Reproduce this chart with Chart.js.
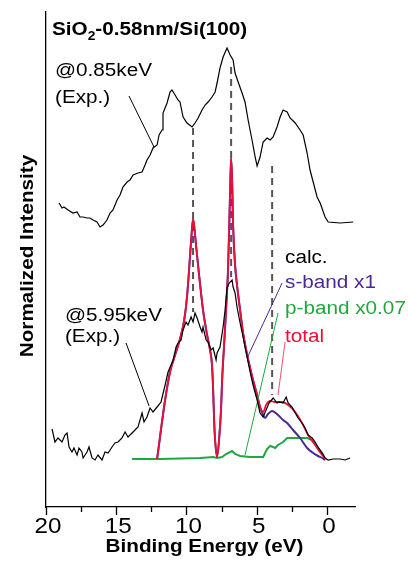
<!DOCTYPE html>
<html>
<head>
<meta charset="utf-8">
<script src="https://cdn.jsdelivr.net/npm/chart.js@4.4.0/dist/chart.umd.min.js"></script>
<style>
  html, body { margin: 0; padding: 0; background: #fff; }
  canvas { display: block; }
</style>
</head>
<body>
<canvas id="chart" width="408" height="562"></canvas>
<script>
// [binding energy (eV), intensity]
const expTop = [[19.07,3.04],[18.86,2.99],[18.72,3.00],[18.43,2.97],[18.08,2.94],[17.79,2.95],[17.58,2.90],[17.36,2.90],[17.08,2.89],[16.87,2.89],[16.65,2.87],[16.37,2.85],[16.15,2.80],[15.94,2.82],[15.66,2.87],[15.44,2.94],[15.23,2.97],[14.94,3.07],[14.73,3.12],[14.52,3.20],[14.23,3.25],[14.02,3.27],[13.80,3.32],[13.45,3.34],[13.16,3.35],[12.95,3.42],[12.81,3.47],[12.59,3.52],[12.38,3.59],[12.09,3.62],[11.95,3.72],[11.74,3.77],[11.67,3.94],[11.38,4.04],[11.17,4.15],[11.03,4.17],[10.81,4.12],[10.60,4.07],[10.46,4.05],[10.24,3.90],[9.96,3.84],[9.60,3.80],[9.39,3.84],[9.17,3.89],[8.89,3.97],[8.67,4.02],[8.46,4.05],[8.18,4.10],[7.96,4.15],[7.82,4.24],[7.61,4.39],[7.39,4.50],[7.11,4.59],[6.89,4.52],[6.68,4.47],[6.54,4.34],[6.32,4.25],[6.04,4.14],[5.83,4.05],[5.61,3.87],[5.33,3.67],[5.11,3.50],[4.97,3.41],[4.76,3.50],[4.54,3.65],[4.26,3.69],[4.04,3.67],[3.83,3.70],[3.55,3.80],[3.33,3.90],[3.12,3.97],[2.83,3.95],[2.62,3.89],[2.26,3.84],[1.91,3.77],[1.69,3.72],[1.41,3.54],[1.20,3.37],[0.70,3.10],[0.48,3.04],[0.13,2.90],[-0.09,2.85],[-0.94,2.84],[-1.87,2.85]];

const expBottom = [[19.57,0.78],[19.36,0.65],[19.15,0.69],[18.86,0.65],[18.65,0.72],[18.50,0.74],[18.36,0.60],[18.15,0.55],[18.01,0.59],[17.79,0.52],[17.65,0.59],[17.44,0.55],[17.36,0.49],[17.08,0.55],[16.94,0.60],[16.72,0.49],[16.51,0.47],[16.30,0.52],[16.01,0.47],[15.80,0.55],[15.58,0.54],[15.30,0.60],[15.09,0.64],[14.87,0.65],[14.59,0.69],[14.37,0.75],[14.16,0.70],[13.87,0.74],[13.66,0.77],[13.45,0.80],[13.16,0.94],[13.02,0.85],[12.81,0.90],[12.59,0.99],[12.38,0.95],[12.09,1.00],[11.81,1.05],[11.52,1.22],[11.31,1.35],[10.95,1.47],[10.74,1.60],[10.60,1.64],[10.38,1.67],[10.24,1.77],[10.03,1.85],[9.89,1.82],[9.67,1.90],[9.53,1.85],[9.39,1.94],[9.24,1.89],[9.03,1.80],[8.89,1.75],[8.82,1.80],[8.60,1.67],[8.46,1.65],[8.25,1.57],[8.10,1.59],[7.89,1.47],[7.82,1.54],[7.61,1.60],[7.39,1.80],[7.25,1.97],[7.11,2.19],[6.96,2.24],[6.75,2.27],[6.68,2.20],[6.54,2.14],[6.40,2.00],[6.18,1.84],[5.97,1.70],[5.83,1.60],[5.61,1.45],[5.47,1.35],[5.26,1.22],[4.97,1.07],[4.76,0.94],[4.54,0.90],[4.33,0.97],[4.12,1.04],[3.83,1.09],[3.55,1.04],[3.40,1.05],[3.12,1.04],[2.90,1.10],[2.76,1.04],[2.48,1.00],[2.26,0.94],[2.05,0.89],[1.77,0.84],[1.55,0.79],[1.34,0.72],[1.05,0.69],[0.84,0.65],[0.63,0.60],[0.34,0.54],[0.13,0.49],[-0.09,0.47],[-0.44,0.48],[-0.94,0.48],[-1.30,0.47],[-1.65,0.49]];

const sBand = [[12.09,0.48],[11.52,1.07],[11.17,1.35],[10.81,1.52],[10.46,1.68],[10.17,1.86],[9.96,2.10],[9.74,2.52],[9.60,2.79],[9.53,2.87],[9.46,2.82],[9.32,2.62],[9.10,2.32],[8.82,1.97],[8.53,1.72],[8.32,1.57],[8.18,1.42],[8.10,1.17],[8.03,0.87],[7.96,0.67],[7.82,0.50],[7.68,0.67],[7.54,0.97],[7.46,1.27],[7.32,1.62],[7.18,1.97],[7.04,2.37],[6.96,2.77],[6.89,3.17],[6.82,3.48],[6.75,3.27],[6.68,2.82],[6.54,2.42],[6.40,2.22],[6.18,1.97],[5.97,1.74],[5.75,1.57],[5.47,1.39],[5.26,1.27],[4.97,1.12],[4.76,1.00],[4.54,0.92],[4.40,0.89],[4.19,0.93],[3.90,0.96],[3.48,0.92],[3.12,0.87],[2.83,0.84],[2.41,0.77],[1.91,0.69],[1.41,0.59],[0.98,0.54],[0.63,0.51],[0.34,0.49],[0.13,0.47]];

const pBand = [[13.87,0.48],[11.88,0.48],[9.03,0.49],[8.10,0.50],[7.82,0.49],[7.46,0.50],[7.18,0.53],[6.75,0.56],[6.54,0.53],[6.18,0.51],[5.47,0.50],[4.54,0.50],[4.40,0.54],[4.26,0.58],[4.04,0.61],[3.83,0.60],[3.69,0.59],[3.48,0.62],[3.12,0.65],[2.83,0.69],[2.41,0.69],[1.41,0.69],[1.05,0.67],[0.70,0.60],[0.34,0.54],[0.13,0.48]];

const total = [[12.09,0.48],[11.52,1.07],[11.17,1.35],[10.81,1.52],[10.46,1.68],[10.17,1.86],[9.96,2.10],[9.74,2.52],[9.60,2.79],[9.53,2.88],[9.46,2.83],[9.32,2.62],[9.10,2.32],[8.82,1.97],[8.53,1.72],[8.32,1.57],[8.18,1.42],[8.10,1.17],[8.03,0.87],[7.96,0.67],[7.82,0.50],[7.68,0.67],[7.54,0.97],[7.46,1.27],[7.32,1.62],[7.18,1.98],[7.04,2.38],[6.96,2.78],[6.89,3.18],[6.82,3.50],[6.75,3.28],[6.68,2.83],[6.54,2.43],[6.40,2.22],[6.18,1.97],[5.97,1.74],[5.75,1.57],[5.47,1.39],[5.26,1.27],[4.97,1.12],[4.76,1.00],[4.54,0.95],[4.33,1.02],[4.04,1.06],[3.69,1.05],[3.19,1.05],[2.76,1.02],[2.26,0.95],[1.77,0.84],[1.34,0.72],[0.84,0.62],[0.34,0.52],[0.06,0.48]];

// peak markers (dashed) and label leader lines
const peakLines = [[[9.53,3.79],[9.53,1.95]], [[6.82,4.40],[6.82,2.30]], [[3.90,3.41],[3.90,1.12]]];
const leaderTop = [[14.09,4.11],[12.31,3.60]];
const leaderBottom = [[14.30,1.64],[12.66,1.01]];
const leaderS = [[3.19,2.24],[5.68,1.49]];
const leaderP = [[3.48,1.94],[5.83,0.52]];
const leaderTotal = [[2.98,1.65],[3.48,1.12]];

const majorTicks = [20, 15, 10, 5, 0];
const minorTicks = [17.5, 12.5, 7.5, 2.5];

const RED = '#e8103a';
const PURPLE = '#4b2896';
const GREEN = '#1fa83f';
const FONT = '"Liberation Sans", Arial, sans-serif';
const SX = 1.15; // text in the figure is a bit wide

function pts(arr) {
    return arr.map(p => ({x: p[0], y: p[1]}));
}

function line(arr, color, width, extra) {
    return Object.assign({
        data: pts(arr),
        borderColor: color,
        borderWidth: width,
        pointRadius: 0,
        fill: false,
        tension: 0
    }, extra || {});
}

function drawText(ctx, text, x, y, font, color, align, rotate, sx) {
    ctx.save();
    ctx.font = font;
    ctx.fillStyle = color || '#000';
    ctx.textAlign = align || 'left';
    ctx.textBaseline = 'alphabetic';
    ctx.translate(x, y);
    if (rotate) ctx.rotate(rotate);
    ctx.scale(sx || SX, 1);
    ctx.fillText(text, 0, 0);
    const w = ctx.measureText(text).width * (sx || SX);
    ctx.restore();
    return w;
}

const labels = [
    {t: '@0.85keV', e: 19.36, i: 4.31},
    {t: '(Exp.)', e: 19.36, i: 4.04},
    {t: '@5.95keV', e: 18.65, i: 1.86},
    {t: '(Exp.)', e: 18.65, i: 1.65},
    {t: 'calc.', e: 2.98, i: 2.44},
    {t: 's-band x1', e: 2.98, i: 2.19, c: PURPLE},
    {t: 'p-band x0.07', e: 2.98, i: 1.93, c: GREEN},
    {t: 'total', e: 2.98, i: 1.65, c: RED}
];

const decorations = {
    id: 'decorations',
    afterDraw(chart) {
        const ctx = chart.ctx;
        const xs = chart.scales.x, ys = chart.scales.y;
        const area = chart.chartArea;
        const normal = '18px ' + FONT;
        const bold = 'bold 18px ' + FONT;

        // x ticks, two lengths
        ctx.save();
        ctx.strokeStyle = '#000';
        ctx.lineWidth = 1.3;
        majorTicks.forEach(v => {
            const px = Math.round(xs.getPixelForValue(v)) + 0.5;
            ctx.beginPath(); ctx.moveTo(px, area.bottom); ctx.lineTo(px, area.bottom + 8); ctx.stroke();
        });
        minorTicks.forEach(v => {
            const px = Math.round(xs.getPixelForValue(v)) + 0.5;
            ctx.beginPath(); ctx.moveTo(px, area.bottom); ctx.lineTo(px, area.bottom + 5); ctx.stroke();
        });
        ctx.restore();

        majorTicks.forEach(v => {
            drawText(ctx, String(v), xs.getPixelForValue(v) + 2, area.bottom + 26, '22px ' + FONT, '#000', 'center', 0, 1.1);
        });

        // axis titles
        drawText(ctx, 'Binding Energy (eV)', (area.left + area.right) / 2 + 4, area.bottom + 45, bold, '#000', 'center');
        drawText(ctx, 'Normalized Intensity', area.left - 13, 256, bold, '#000', 'center', -Math.PI / 2);

        // title with subscript
        let tx = xs.getPixelForValue(19.57);
        const ty = ys.getPixelForValue(4.72);
        tx += drawText(ctx, 'SiO', tx, ty, bold);
        tx += drawText(ctx, '2', tx, ty + 5, 'bold 12px ' + FONT);
        drawText(ctx, '-0.58nm/Si(100)', tx, ty, bold);

        labels.forEach(l => {
            drawText(ctx, l.t, xs.getPixelForValue(l.e), ys.getPixelForValue(l.i), normal, l.c || '#000');
        });
    }
};

const datasets = [
    line(expTop, '#000', 1.2),
    line(expBottom, '#000', 1.2),
    line(leaderTop, '#000', 1),
    line(leaderBottom, '#000', 1),
    line(leaderS, PURPLE, 1),
    line(leaderP, GREEN, 1),
    line(leaderTotal, '#f0506a', 1),
    line(total, RED, 1.8, {cubicInterpolationMode: 'monotone'}),
    line(sBand, PURPLE, 2, {cubicInterpolationMode: 'monotone'}),
    line(pBand, GREEN, 2)
];
peakLines.forEach(seg => datasets.push(line(seg, '#555', 2, {borderDash: [7, 5]})));

new Chart(document.getElementById('chart'), {
    type: 'line',
    data: {datasets: datasets},
    options: {
        responsive: false,
        animation: false,
        devicePixelRatio: 1,
        layout: {padding: {top: 12, right: 53, left: 0, bottom: 0}},
        plugins: {legend: {display: false}, tooltip: {enabled: false}},
        scales: {
            x: {
                type: 'linear',
                min: -2,
                max: 20,
                reverse: true,
                ticks: {display: false},
                grid: {display: false},
                border: {display: true, color: '#000', width: 1.3},
                afterFit: s => { s.height = 55; }
            },
            y: {
                type: 'linear',
                min: 0,
                max: 4.95,
                ticks: {display: false},
                grid: {display: false},
                border: {display: true, color: '#000', width: 1.3},
                afterFit: s => { s.width = 46; }
            }
        }
    },
    plugins: [decorations]
});
</script>
</body>
</html>
